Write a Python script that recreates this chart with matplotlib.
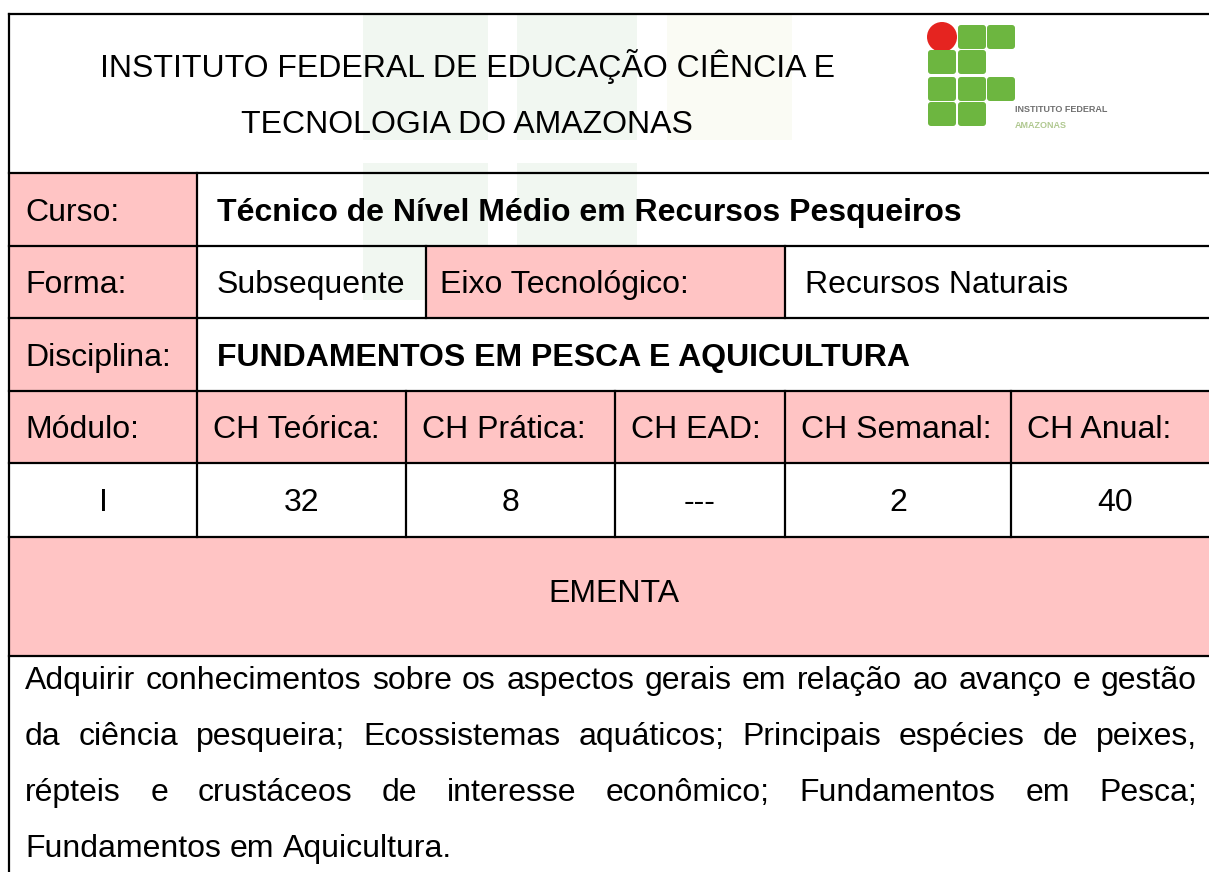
import matplotlib.pyplot as plt
from matplotlib.patches import Rectangle, Circle, FancyBboxPatch

plt.rcParams['font.family'] = ['Liberation Sans', 'DejaVu Sans']

# --- Content of the sheet ---
title_lines = ["INSTITUTO FEDERAL DE EDUCAÇÃO CIÊNCIA E", "TECNOLOGIA DO AMAZONAS"]
curso = "Técnico de Nível Médio em Recursos Pesqueiros"
forma = "Subsequente"
eixo_label = "Eixo Tecnológico:"
eixo = "Recursos Naturais"
disciplina = "FUNDAMENTOS EM PESCA E AQUICULTURA"
ch_labels = ["Módulo:", "CH Teórica:", "CH Prática:", "CH EAD:", "CH Semanal:", "CH Anual:"]
ch_values = ["I", "32", "8", "---", "2", "40"]
ementa_title = "EMENTA"
ementa_lines = [
    "Adquirir conhecimentos sobre os aspectos gerais em relação ao avanço e gestão",
    "da ciência pesqueira; Ecossistemas aquáticos; Principais espécies de peixes,",
    "répteis e crustáceos de interesse econômico; Fundamentos em Pesca;",
    "Fundamentos em Aquicultura.",
]
logo_grid = [["circle", "sq", "sq"],
             ["sq", "sq", None],
             ["sq", "sq", "sq"],
             ["sq", "sq", None]]

# --- Geometry (pixels) ---
W, H = 1209, 872
LEFT, RIGHT = 9, 1219
rows = [14, 173, 246, 318, 391, 463, 537, 656]
ch_cols = [9, 197, 406, 615, 785, 1011, 1219]
forma_cols = [9, 197, 426, 785, 1219]

PINK = '#FFC4C4'
FS = 23
LW = 1.6

fig = plt.figure(figsize=(W / 100, H / 100), dpi=100)
ax = fig.add_axes([0, 0, 1, 1])
ax.set_xlim(0, W)
ax.set_ylim(H, 0)
ax.axis('off')

# faint watermark behind the table
wm_cols = [(363, 488), (517, 637), (667, 792)]
wm_rows = [(15, 140), (163, 300)]
for r, (y0, y1) in enumerate(wm_rows):
    for c, (x0, x1) in enumerate(wm_cols):
        if r == 1 and c == 2:
            continue
        col = '#FAFBF4' if c == 2 else '#F1F7F1'
        ax.add_patch(Rectangle((x0, y0), x1 - x0, y1 - y0, color=col, lw=0, zorder=0))


def cell(x0, x1, y0, y1, fill=None):
    if fill:
        ax.add_patch(Rectangle((x0, y0), x1 - x0, y1 - y0, color=fill, lw=0, zorder=1))


# pink cells
cell(LEFT, 197, rows[1], rows[2], PINK)
cell(LEFT, 197, rows[2], rows[3], PINK)
cell(426, 785, rows[2], rows[3], PINK)
cell(LEFT, 197, rows[3], rows[4], PINK)
cell(LEFT, RIGHT, rows[4], rows[5], PINK)
cell(LEFT, RIGHT, rows[6], rows[7], PINK)

# borders
for y in rows:
    ax.plot([LEFT, RIGHT], [y, y], color='black', lw=LW, zorder=3, solid_capstyle='projecting')
ax.plot([LEFT, LEFT], [rows[0], H + 5], color='black', lw=LW, zorder=3)
for y0, y1 in [(rows[1], rows[2]), (rows[3], rows[4])]:
    ax.plot([197, 197], [y0, y1], color='black', lw=LW, zorder=3)
for x in forma_cols[1:-1]:
    ax.plot([x, x], [rows[2], rows[3]], color='black', lw=LW, zorder=3)
for x in ch_cols[1:-1]:
    ax.plot([x, x], [rows[4], rows[6]], color='black', lw=LW, zorder=3)


def txt(x, y, s, ha='left', bold=False):
    return ax.text(x, y, s, fontsize=FS, ha=ha, va='baseline', zorder=4,
                   fontweight='bold' if bold else 'normal', color='black')


def row_base(i):
    return (rows[i] + rows[i + 1]) / 2 + 11


# header
txt(467, 77, title_lines[0], ha='center')
txt(467, 133, title_lines[1], ha='center')

# logo
lx = [928, 958, 987]
ly = [25, 50, 77, 102]
for r, line in enumerate(logo_grid):
    for c, kind in enumerate(line):
        if kind == "circle":
            ax.add_patch(Circle((lx[c] + 14, ly[r] + 12), 15, color='#E52420', lw=0, zorder=2))
        elif kind == "sq":
            ax.add_patch(FancyBboxPatch((lx[c] + 2, ly[r] + 2), 24, 20,
                                        boxstyle='round,pad=2,rounding_size=3',
                                        color='#6DB640', lw=0, zorder=2))
ax.text(1015, 112, "INSTITUTO FEDERAL", fontsize=6.5, fontweight='bold', color='#707070', va='baseline')
ax.text(1015, 128, "AMAZONAS", fontsize=6.5, fontweight='bold', color='#B0C890', va='baseline')

# rows of labels
txt(25, row_base(1), "Curso:")
txt(217, row_base(1), curso, bold=True)
txt(25, row_base(2), "Forma:")
txt(217, row_base(2), forma)
txt(440, row_base(2), eixo_label)
txt(805, row_base(2), eixo)
txt(25, row_base(3), "Disciplina:")
txt(217, row_base(3), disciplina, bold=True)
for i, lab in enumerate(ch_labels):
    txt(ch_cols[i] + 16, row_base(4), lab)
for i, v in enumerate(ch_values):
    txt((ch_cols[i] + ch_cols[i + 1]) / 2, row_base(5), v, ha='center')

txt((LEFT + RIGHT) / 2, 602, ementa_title, ha='center')

# justified body text
fig.canvas.draw()
rend = fig.canvas.get_renderer()
x_start, x_end = 25, 1197
space = 0.278 * FS * 100 / 72
for i, line in enumerate(ementa_lines):
    y = 678 + 11 + i * 56
    words = line.split()
    arts = [txt(0, y, w) for w in words]
    widths = [a.get_window_extent(rend).width for a in arts]
    if i < len(ementa_lines) - 1:
        gap = (x_end - x_start - sum(widths)) / (len(words) - 1)
    else:
        gap = space
    x = x_start
    for a, w in zip(arts, widths):
        a.set_x(x)
        x += w + gap

fig.savefig('out.png', dpi=100)
